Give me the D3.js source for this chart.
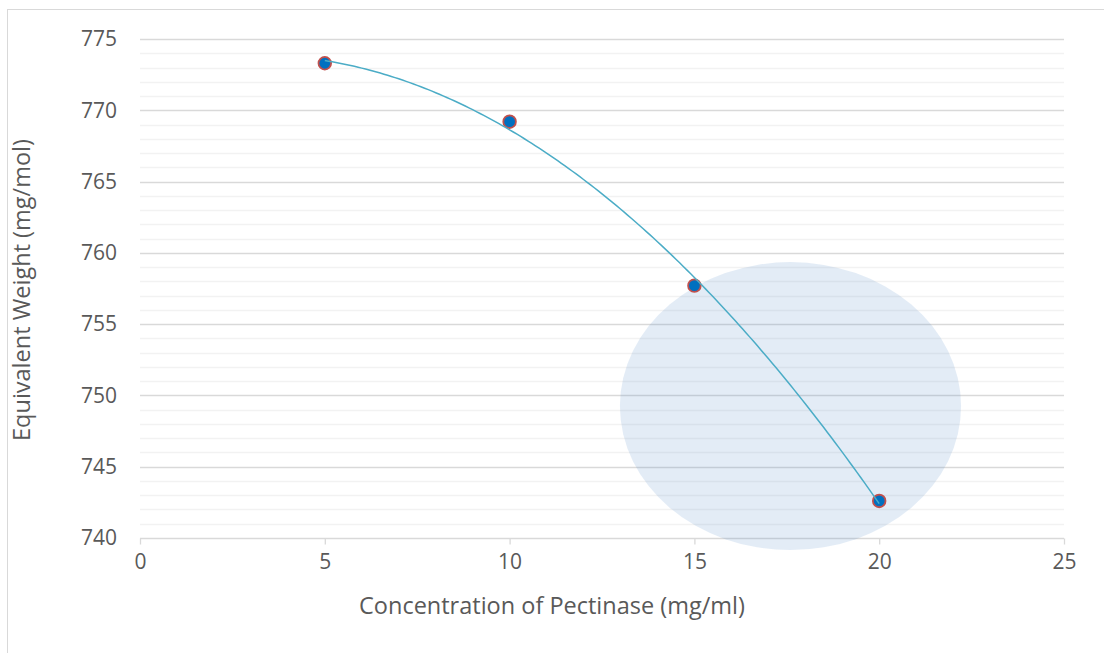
<!DOCTYPE html>
<html>
<head>
<meta charset="utf-8">
<script src="https://cdn.jsdelivr.net/npm/d3@7"></script>
<style>
  html, body { margin: 0; padding: 0; background: #fff; }
  svg { display: block; }
  text { font-family: "Open Sans", "Noto Sans", sans-serif; fill: #595959; }
</style>
</head>
<body>
<svg id="chart" width="1104" height="653"></svg>
<script>
// ---- data ----
const concentrations = [5, 10, 15, 20];
const equivalentWeights = [773.3, 769.2, 757.7, 742.6];
const xTicks = [0, 5, 10, 15, 20, 25];
const yTicks = [740, 745, 750, 755, 760, 765, 770, 775];
const xTitle = "Concentration of Pectinase (mg/ml)";
const yTitle = "Equivalent Weight (mg/mol)";
// highlight ellipse annotation (data coordinates)
const highlightCenter = [17.6, 749.25];
const highlightRadii = [4.615, 10.1];

const svg = d3.select("#chart");
const W = 1104, H = 653;
const plot = { left: 140, right: 1064, top: 39, bottom: 538 };

// outer chart border
svg.append("rect")
  .attr("x", 7.5).attr("y", 9.5)
  .attr("width", W + 10).attr("height", H + 10)
  .attr("fill", "#fff").attr("stroke", "#d9d9d9").attr("stroke-width", 1);

const x = d3.scaleLinear().domain([0, 25]).range([plot.left, plot.right]);
const y = d3.scaleLinear().domain([740, 775]).range([plot.bottom, plot.top]);

// minor gridlines
const minor = d3.range(741, 775, 1).filter(v => v % 5 !== 0);
svg.append("g").selectAll("line").data(minor).join("line")
  .attr("x1", plot.left).attr("x2", plot.right)
  .attr("y1", d => Math.round(y(d)) + 0.5).attr("y2", d => Math.round(y(d)) + 0.5)
  .attr("stroke", "#f2f2f2").attr("stroke-width", 1.3);

// major gridlines
svg.append("g").selectAll("line").data(yTicks.filter(v => v !== 740)).join("line")
  .attr("x1", plot.left).attr("x2", plot.right)
  .attr("y1", d => Math.round(y(d)) + 0.5).attr("y2", d => Math.round(y(d)) + 0.5)
  .attr("stroke", "#d9d9d9").attr("stroke-width", 1.3);

// x axis
const xAxis = d3.axisBottom(x).tickValues(xTicks).tickSize(6).tickPadding(10);
const gx = svg.append("g")
  .attr("transform", `translate(0,${Math.round(y(740)) + 0.5})`)
  .call(xAxis);
gx.select(".domain").attr("stroke", "#d9d9d9").attr("stroke-width", 1.3)
  .attr("d", `M${plot.left},0H${plot.right}`);
gx.selectAll(".tick line").attr("stroke", "#d9d9d9").attr("stroke-width", 1.3);
gx.selectAll(".tick text").style("font-size", "21px").attr("fill", "#595959")
  .style("font-family", '"Open Sans", sans-serif');

// y axis (labels only)
const yAxis = d3.axisLeft(y).tickValues(yTicks).tickSize(0).tickPadding(23);
const gy = svg.append("g").attr("transform", `translate(${plot.left},0)`).call(yAxis);
gy.select(".domain").remove();
gy.selectAll(".tick text").style("font-size", "21px").attr("fill", "#595959")
  .style("font-family", '"Open Sans", sans-serif');

// highlight ellipse
svg.append("ellipse")
  .attr("cx", x(highlightCenter[0])).attr("cy", y(highlightCenter[1]))
  .attr("rx", x(highlightRadii[0]) - x(0))
  .attr("ry", y(740) - y(740 + highlightRadii[1]))
  .attr("fill", "rgb(90,140,200)").attr("fill-opacity", 0.17);

// markers
const pts = concentrations.map((c, i) => [x(c), y(equivalentWeights[i])]);
svg.append("g").selectAll("circle").data(pts).join("circle")
  .attr("cx", d => d[0]).attr("cy", d => d[1]).attr("r", 6.3)
  .attr("fill", "#0070c0").attr("stroke", "#c0504d").attr("stroke-width", 1.8);

// polynomial (order 2) trendline: least-squares fit of the data
function quadFit(xs, ys) {
  const s = [0, 0, 0, 0, 0], t = [0, 0, 0];
  xs.forEach((xv, i) => {
    for (let k = 0; k <= 4; k++) s[k] += Math.pow(xv, k);
    for (let k = 0; k <= 2; k++) t[k] += Math.pow(xv, k) * ys[i];
  });
  const A = [[s[0], s[1], s[2], t[0]], [s[1], s[2], s[3], t[1]], [s[2], s[3], s[4], t[2]]];
  for (let i = 0; i < 3; i++) {
    for (let j = i + 1; j < 3; j++) {
      const f = A[j][i] / A[i][i];
      for (let k = i; k < 4; k++) A[j][k] -= f * A[i][k];
    }
  }
  const c = [0, 0, 0];
  for (let i = 2; i >= 0; i--) {
    let v = A[i][3];
    for (let k = i + 1; k < 3; k++) v -= A[i][k] * c[k];
    c[i] = v / A[i][i];
  }
  return xv => c[0] + c[1] * xv + c[2] * xv * xv;
}
const fit = quadFit(concentrations, equivalentWeights);
const xMin = d3.min(concentrations), xMax = d3.max(concentrations);
const trend = d3.range(xMin, xMax + 0.001, 0.1).map(v => [x(v), y(fit(v))]);
svg.append("path")
  .attr("d", d3.line()(trend))
  .attr("fill", "none").attr("stroke", "#4bacc6").attr("stroke-width", 1.5);

// axis titles
svg.append("text")
  .attr("x", 552).attr("y", 614)
  .attr("text-anchor", "middle").style("font-size", "23.5px")
  .text(xTitle);
svg.append("text")
  .attr("transform", `translate(30,290) rotate(-90)`)
  .attr("text-anchor", "middle").style("font-size", "23.5px")
  .text(yTitle);
</script>
</body>
</html>
